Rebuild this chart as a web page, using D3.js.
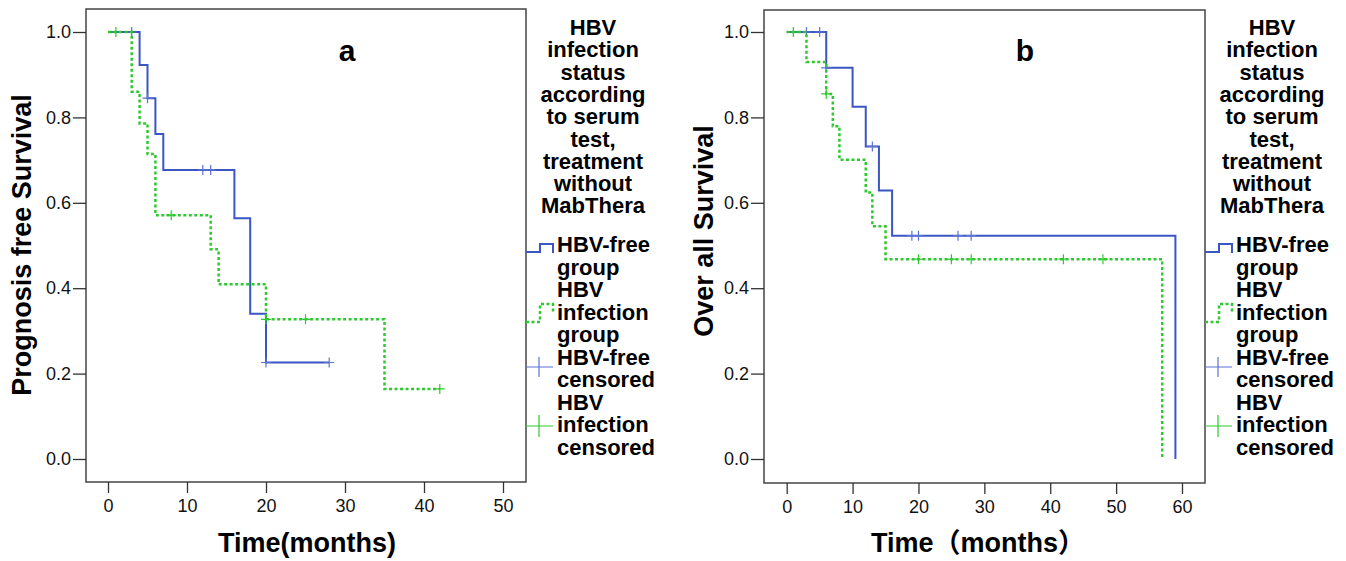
<!DOCTYPE html>
<html>
<head>
<meta charset="utf-8">
<script src="https://cdn.jsdelivr.net/npm/d3@7"></script>
<style>
  body { margin: 0; background: #fff; }
  svg { display: block; font-family: "Liberation Sans", Arial, "Noto Sans CJK SC", sans-serif; }
  .tick text { font-size: 18px; fill: #111; }
  .tick line { stroke: #333; stroke-width: 1.3; }
</style>
</head>
<body>
<div id="wrapper"></div>
<script>
// panel a: prognosis free survival
const aFreeTimes = [0, 4, 5, 6, 7, 16, 18, 20, 28]
const aFreeSurv = [1, 0.923, 0.845, 0.761, 0.677, 0.564, 0.340, 0.226, 0.226]
const aFreeCensor = [3, 5, 12, 13, 20, 28]
const aInfTimes = [0, 3, 4, 5, 6, 13, 14, 20, 35, 42]
const aInfSurv = [1, 0.860, 0.786, 0.714, 0.571, 0.491, 0.409, 0.327, 0.164, 0.164]
const aInfCensor = [1, 8, 20, 25, 42]

// panel b: overall survival
const bFreeTimes = [0, 6, 10, 12, 14, 16, 59]
const bFreeSurv = [1, 0.916, 0.825, 0.732, 0.629, 0.523, 0]
const bFreeCensor = [3, 5, 6, 13, 19, 20, 26, 28]
const bInfTimes = [0, 3, 6, 7, 8, 12, 13, 15, 57]
const bInfSurv = [1, 0.930, 0.855, 0.779, 0.701, 0.624, 0.545, 0.468, 0]
const bInfCensor = [1, 6, 20, 25, 28, 42, 48]

const xTicksA = [0, 10, 20, 30, 40, 50]
const xTicksB = [0, 10, 20, 30, 40, 50, 60]
const yTicks = [0, 0.2, 0.4, 0.6, 0.8, 1.0]

const legendTitle = ["HBV", "infection", "status", "according", "to serum", "test,", "treatment", "without", "MabThera"]
const legendItems = [
  ["HBV-free", "group"],
  ["HBV", "infection", "group"],
  ["HBV-free", "censored"],
  ["HBV", "infection", "censored"],
]

const blue = "#3b55c3"
const blueLight = "#5b73d3"
const green = "#2ec92e"

const svg = d3.select("#wrapper")
  .append("svg")
  .attr("width", 1346)
  .attr("height", 561)

function drawPanel(p) {
  // 1. scales
  const xScale = d3.scaleLinear().domain([0, p.xMax]).range([p.x0, p.x1])
  const yScale = d3.scaleLinear().domain([0, 1]).range([459, 32])

  const g = svg.append("g")

  // 2. frame
  g.append("rect")
    .attr("x", p.box.left)
    .attr("y", p.box.top)
    .attr("width", p.box.right - p.box.left)
    .attr("height", p.box.bottom - p.box.top)
    .attr("fill", "none")
    .attr("stroke", "#444")
    .attr("stroke-width", 1.5)

  // 3. axes
  const xAxis = g.append("g")
    .attr("transform", `translate(0, ${p.box.bottom})`)
    .call(d3.axisBottom(xScale).tickValues(p.xTicks).tickSize(11).tickSizeOuter(0).tickPadding(6))
  xAxis.select(".domain").remove()

  const yAxis = g.append("g")
    .attr("transform", `translate(${p.box.left}, 0)`)
    .call(d3.axisLeft(yScale).tickValues(yTicks).tickSize(13).tickSizeOuter(0).tickPadding(2).tickFormat(d3.format(".1f")))
  yAxis.select(".domain").remove()

  g.append("text")
    .attr("x", p.xLabelX)
    .attr("y", 552)
    .attr("text-anchor", "middle")
    .style("font-size", "27px")
    .style("font-weight", "bold")
    .text(p.xLabel)

  g.append("text")
    .attr("transform", `translate(${p.yLabelX}, ${p.yLabelY}) rotate(-90)`)
    .attr("text-anchor", "middle")
    .style("font-size", "27px")
    .style("font-weight", "bold")
    .text(p.yLabel)

  g.append("text")
    .attr("x", p.tagX)
    .attr("y", 61)
    .attr("text-anchor", "middle")
    .style("font-size", "30px")
    .style("font-weight", "bold")
    .text(p.tag)

  // 4. curves
  const line = d3.line()
    .x(d => xScale(d[0]))
    .y(d => yScale(d[1]))
    .curve(d3.curveStepAfter)

  const survAt = (times, surv, t) => surv[d3.bisectRight(times, t) - 1]

  p.series.forEach(s => {
    g.append("path")
      .datum(s.times.map((t, i) => [t, s.surv[i]]))
      .attr("d", line)
      .attr("fill", "none")
      .attr("stroke", s.color)
      .attr("stroke-width", s.dashed ? 2.5 : 2)
      .attr("stroke-dasharray", s.dashed ? "3,2.5" : null)

    g.selectAll(null)
      .data(s.censor)
      .enter()
      .append("path")
        .attr("d", t => {
          const cx = xScale(t)
          const cy = yScale(survAt(s.times, s.surv, t))
          return `M${cx - 5},${cy}H${cx + 5}M${cx},${cy - 5}V${cy + 5}`
        })
        .attr("stroke", s.censorColor)
        .attr("stroke-width", 1.2)
  })

  // 5. legend
  const bx = p.box.right
  const legend = g.append("g")

  legend.selectAll(null)
    .data(legendTitle)
    .enter()
    .append("text")
      .attr("x", bx + 67)
      .attr("y", (d, i) => 35 + i * 22.3)
      .attr("text-anchor", "middle")
      .style("font-size", "22px")
      .style("font-weight", "bold")
      .text(d => d)

  let row = 0
  legendItems.forEach(lines => {
    lines.forEach(l => {
      legend.append("text")
        .attr("x", bx + 31)
        .attr("y", 252 + row * 22.5)
        .style("font-size", "22px")
        .style("font-weight", "bold")
        .text(l)
      row++
    })
  })

  legend.append("path")
    .attr("d", `M${bx},252H${bx + 14}V244H${bx + 27}V253`)
    .attr("fill", "none").attr("stroke", blue).attr("stroke-width", 2)
  legend.append("path")
    .attr("d", `M${bx},322H${bx + 14}V304H${bx + 27}V312`)
    .attr("fill", "none").attr("stroke", green).attr("stroke-width", 2.5)
    .attr("stroke-dasharray", "3,2.5")
  legend.append("path")
    .attr("d", `M${bx},367H${bx + 27}M${bx + 13},357V377`)
    .attr("stroke", blueLight).attr("stroke-width", 1.2)
  legend.append("path")
    .attr("d", `M${bx},426H${bx + 27}M${bx + 13},415V437`)
    .attr("stroke", green).attr("stroke-width", 1.2)
}

drawPanel({
  xMax: 50, x0: 108, x1: 503,
  box: { left: 86, right: 526, top: 9, bottom: 482 },
  xTicks: xTicksA,
  xLabel: "Time(months)", xLabelX: 307,
  yLabel: "Prognosis free Survival",
  yLabelX: 31, yLabelY: 245,
  tag: "a", tagX: 347,
  series: [
    { times: aFreeTimes, surv: aFreeSurv, censor: aFreeCensor, color: blue, censorColor: blueLight, dashed: false },
    { times: aInfTimes, surv: aInfSurv, censor: aInfCensor, color: green, censorColor: green, dashed: true },
  ],
})

drawPanel({
  xMax: 60, x0: 786.7, x1: 1182,
  box: { left: 764, right: 1205, top: 10, bottom: 483 },
  xTicks: xTicksB,
  xLabel: "Time（months）", xLabelX: 978,
  yLabel: "Over all Survival",
  yLabelX: 713, yLabelY: 231,
  tag: "b", tagX: 1025,
  series: [
    { times: bFreeTimes, surv: bFreeSurv, censor: bFreeCensor, color: blue, censorColor: blueLight, dashed: false },
    { times: bInfTimes, surv: bInfSurv, censor: bInfCensor, color: green, censorColor: green, dashed: true },
  ],
})
</script>
</body>
</html>
